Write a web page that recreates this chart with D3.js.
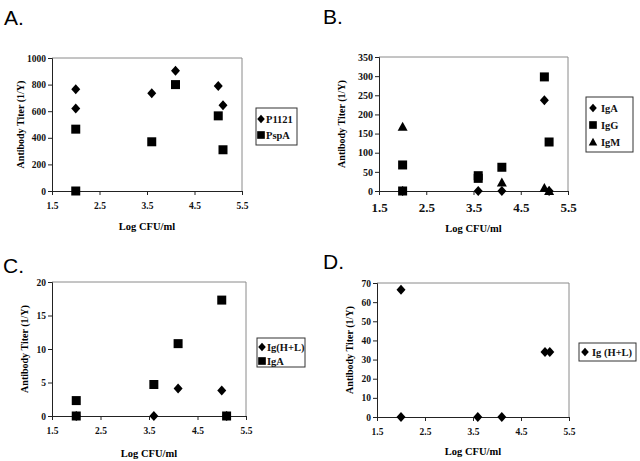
<!DOCTYPE html>
<html><head><meta charset="utf-8">
<script src="https://cdn.jsdelivr.net/npm/d3@7"></script>
<style>body{margin:0;background:#fff}svg{display:block}</style>
</head><body>
<svg id="c" width="640" height="461"></svg>
<script>
// ---- data ----
const xTicks = [1.5, 2.5, 3.5, 4.5, 5.5];
const xTickLabels = ["1.5", "2.5", "3.5", "4.5", "5.5"];
const yTicksA = [0, 200, 400, 600, 800, 1000];
const yTicksB = [0, 50, 100, 150, 200, 250, 300, 350];
const yTicksC = [0, 5, 10, 15, 20];
const yTicksD = [0, 10, 20, 30, 40, 50, 60, 70];

const A_P1121_x = [2.0, 2.0, 3.6, 4.1, 5.0, 5.1];
const A_P1121_y = [765, 620, 735, 905, 790, 645];
const A_PspA_x = [2.0, 2.0, 3.6, 4.1, 5.0, 5.1];
const A_PspA_y = [465, 0, 370, 800, 565, 310];

const B_IgA_x = [2.0, 3.6, 4.1, 5.0, 5.1];
const B_IgA_y = [0, 0, 0, 237, 0];
const B_IgG_x = [2.0, 2.0, 3.6, 3.6, 4.1, 5.0, 5.1];
const B_IgG_y = [68, 0, 40, 33, 62, 298, 128];
const B_IgM_x = [2.0, 4.1, 5.0, 5.1];
const B_IgM_y = [168, 22, 8, 0];

const C_IgHL_x = [2.0, 3.6, 4.1, 5.0, 5.1];
const C_IgHL_y = [0, 0, 4.1, 3.8, 0];
const C_IgA_x = [2.0, 2.0, 3.6, 4.1, 5.0, 5.1];
const C_IgA_y = [2.3, 0, 4.7, 10.8, 17.3, 0];

const D_IgHL_x = [2.0, 2.0, 3.6, 4.1, 5.0, 5.1];
const D_IgHL_y = [66.5, 0, 0, 0, 34, 34];

const xTitle = "Log CFU/ml";
const yTitle = "Antibody Titer (1/Y)";

// ---- drawing ----
const svg = d3.select("#c");
const SERIF = "'Liberation Serif','Times New Roman','DejaVu Serif',serif";
const SANS = "'Liberation Sans',Arial,sans-serif";

const shapes = {
  diamond: "M0,-5L4.5,0L0,5L-4.5,0Z",
  square: "M-4.5,-4.5H4.5V4.5H-4.5Z",
  triangle: "M0,-5L5,4H-5Z"
};

function zip(xs, ys) { return xs.map((x, i) => ({x: x, y: ys[i]})); }

function panel(cfg) {
  const g = svg.append("g");
  const x = d3.scaleLinear().domain([1.5, 5.5]).range([cfg.x0, cfg.x1]);
  const y = d3.scaleLinear().domain([0, cfg.ymax]).range([cfg.y1, cfg.y0]);

  svg.append("text").attr("x", cfg.lx).attr("y", cfg.ly)
    .attr("font-family", SANS).attr("font-size", 21).text(cfg.letter);

  g.append("path")
    .attr("d", `M${cfg.x0},${cfg.y0}H${cfg.x1}V${cfg.y1}`)
    .attr("fill", "none").attr("stroke", "#8a8a8a").attr("stroke-width", 1);

  const xa = g.append("g").attr("transform", `translate(0,${cfg.y1})`)
    .call(d3.axisBottom(x).tickValues(xTicks).tickFormat((d, i) => xTickLabels[i]).tickSizeOuter(0).tickSize(4).tickPadding(cfg.xpad));
  const ya = g.append("g").attr("transform", `translate(${cfg.x0},0)`)
    .call(d3.axisLeft(y).tickValues(cfg.yticks).tickFormat(d3.format("d")).tickSizeOuter(0).tickSize(4).tickPadding(2));
  [xa, ya].forEach(a => {
    a.attr("font-family", SERIF);
    a.selectAll("path,line").attr("stroke", "#222");
    a.selectAll("text").attr("font-family", SERIF).attr("font-weight", "bold").attr("fill", "#111");
  });
  xa.selectAll("text").attr("font-size", cfg.xfs);
  ya.selectAll("text").attr("font-size", cfg.yfs);

  g.append("text").attr("x", (cfg.x0 + cfg.x1) / 2).attr("y", cfg.xty)
    .attr("text-anchor", "middle").attr("font-family", SERIF).attr("font-weight", "bold")
    .attr("font-size", 10.5).text(xTitle);
  g.append("text").attr("transform", `translate(${cfg.ytx},${(cfg.y0 + cfg.y1) / 2}) rotate(-90)`)
    .attr("text-anchor", "middle").attr("font-family", SERIF).attr("font-weight", "bold")
    .attr("font-size", 10).text(yTitle);

  cfg.series.forEach(s => {
    g.append("g").selectAll("path").data(s.data).join("path")
      .attr("d", shapes[s.shape]).attr("fill", "#000")
      .attr("transform", d => `translate(${x(d.x)},${y(d.y)})`);
  });

  const L = cfg.legend;
  const lg = g.append("g");
  lg.append("rect").attr("x", L.x).attr("y", L.y).attr("width", L.w).attr("height", L.h)
    .attr("fill", "#fff").attr("stroke", "#333").attr("stroke-width", 1);
  cfg.series.forEach((s, i) => {
    const cy = L.y + L.first + i * L.step;
    lg.append("path").attr("d", shapes[s.shape]).attr("fill", "#000")
      .attr("transform", `translate(${L.x + L.mx},${cy}) scale(0.85)`);
    lg.append("text").attr("x", L.x + L.tx).attr("y", cy + 3.5)
      .attr("font-family", SERIF).attr("font-weight", "bold").attr("font-size", 10.5)
      .attr("fill", "#111").text(s.name);
  });
}

panel({letter: "A.", lx: 4, ly: 25, x0: 52, x1: 242, y0: 58, y1: 191, ymax: 1000, yticks: yTicksA,
  xfs: 9.5, yfs: 9.5, xpad: 7, xty: 230, ytx: 24,
  legend: {x: 256, y: 108, w: 41, h: 37, first: 11, step: 16, mx: 5, tx: 10},
  series: [{name: "P1121", shape: "diamond", data: zip(A_P1121_x, A_P1121_y)},
           {name: "PspA", shape: "square", data: zip(A_PspA_x, A_PspA_y)}]});

panel({letter: "B.", lx: 323, ly: 24, x0: 379, x1: 568, y0: 57, y1: 191, ymax: 350, yticks: yTicksB,
  xfs: 13, yfs: 10, xpad: 8, xty: 232, ytx: 345,
  legend: {x: 586, y: 97, w: 47, h: 55, first: 11, step: 17, mx: 7, tx: 15},
  series: [{name: "IgA", shape: "diamond", data: zip(B_IgA_x, B_IgA_y)},
           {name: "IgG", shape: "square", data: zip(B_IgG_x, B_IgG_y)},
           {name: "IgM", shape: "triangle", data: zip(B_IgM_x, B_IgM_y)}]});

panel({letter: "C.", lx: 3, ly: 273, x0: 52, x1: 246, y0: 282, y1: 416, ymax: 20, yticks: yTicksC,
  xfs: 9.5, yfs: 9.5, xpad: 7, xty: 457, ytx: 28,
  legend: {x: 257, y: 338, w: 48, h: 29, first: 9, step: 14, mx: 5, tx: 10},
  series: [{name: "Ig(H+L)", shape: "diamond", data: zip(C_IgHL_x, C_IgHL_y)},
           {name: "IgA", shape: "square", data: zip(C_IgA_x, C_IgA_y)}]});

panel({letter: "D.", lx: 323, ly: 269, x0: 377, x1: 569, y0: 283, y1: 417, ymax: 70, yticks: yTicksD,
  xfs: 9.5, yfs: 9.5, xpad: 7, xty: 455, ytx: 353,
  legend: {x: 579, y: 343, w: 57, h: 18, first: 9, step: 14, mx: 6, tx: 13},
  series: [{name: "Ig (H+L)", shape: "diamond", data: zip(D_IgHL_x, D_IgHL_y)}]});
</script>
</body></html>
